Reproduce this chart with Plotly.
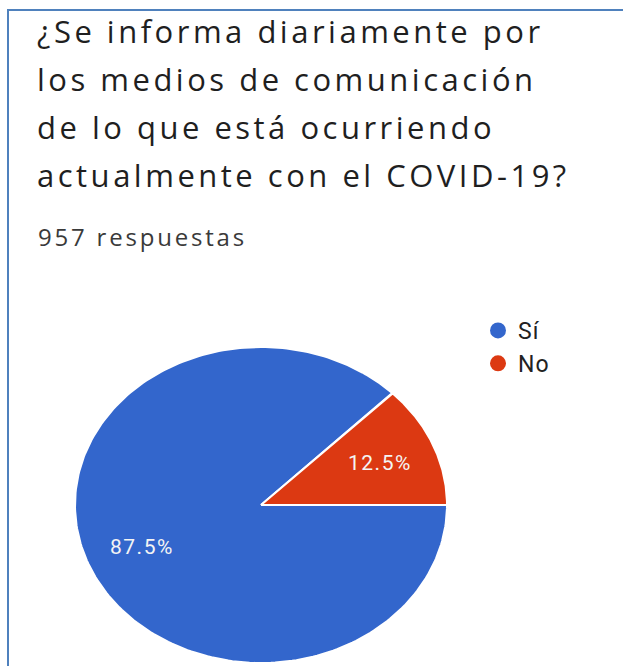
import numpy as np
import plotly.graph_objects as go

# Survey answers
labels = ["Sí", "No"]
counts = [837, 120]
colors = ["#3366cc", "#dc3912"]
total_label = "957 respuestas"
title_lines = [
    "¿Se informa diariamente por",
    "los medios de comunicación",
    "de lo que está ocurriendo",
    "actualmente con el COVID-19?",
]

W, H = 623, 666
# pie geometry in pixels (the chart is drawn slightly wider than tall)
CX, CY, RX, RY = 261, 505, 186, 158


def px(x):
    return x / W


def py(y):
    return 1 - y / H


def spaced(text, sp):
    return f'<span style="letter-spacing:{sp}px">{text}</span>'


fig = go.Figure()

total = sum(counts)
fracs = [c / total for c in counts]
start = 0.0  # degrees, 3 o'clock, moving clockwise
for lab, frac, col in zip(labels, fracs, colors):
    end = start - 360 * frac
    ang = np.radians(np.linspace(start, end, 240))
    xs = np.concatenate([[0], np.cos(ang), [0]])
    ys = np.concatenate([[0], np.sin(ang), [0]])
    fig.add_trace(go.Scatter(
        x=xs, y=ys, mode="lines", fill="toself", fillcolor=col,
        line=dict(color="white", width=2), showlegend=False,
        hoverinfo="text", text=f"{lab}: {frac*100:.1f}%",
    ))
    mid = np.radians((start + end) / 2)
    fig.add_annotation(
        x=0.69 * np.cos(mid), y=0.69 * np.sin(mid), xref="x", yref="y",
        text=spaced(f"{frac*100:.1f}%", 1.5), showarrow=False,
        font=dict(family="Roboto", size=21, color="#f4f4f4"),
    )
    start = end

# legend entries
for lab, col in zip(labels, colors):
    fig.add_trace(go.Scatter(
        x=[None], y=[None], mode="markers", name=spaced(lab, 1),
        marker=dict(color=col, size=21, symbol="circle"),
    ))

fig.update_xaxes(visible=False, range=[-CX / RX, (W - CX) / RX], fixedrange=True)
fig.update_yaxes(visible=False, range=[-(H - CY) / RY, CY / RY], fixedrange=True)

# question text
for i, line in enumerate(title_lines):
    fig.add_annotation(
        x=px(35), y=py(31 + 48 * i), xref="paper", yref="paper",
        xanchor="left", yanchor="middle", text=spaced(line, 3.5),
        showarrow=False,
        font=dict(family="Open Sans", size=31, color="#1f1f1f"),
    )

fig.add_annotation(
    x=px(36), y=py(236), xref="paper", yref="paper",
    xanchor="left", yanchor="middle", text=spaced(total_label, 2.8),
    showarrow=False,
    font=dict(family="Open Sans", size=24, color="#3a3a3a"),
)

# frame lines
border = dict(color="#4f81bd", width=2)
fig.add_shape(type="line", xref="paper", yref="paper",
              x0=px(7), x1=1, y0=py(10), y1=py(10), line=border)
fig.add_shape(type="line", xref="paper", yref="paper",
              x0=px(8), x1=px(8), y0=py(9), y1=0, line=border)

fig.update_layout(
    width=W, height=H,
    margin=dict(l=0, r=0, t=0, b=0),
    paper_bgcolor="white", plot_bgcolor="white",
    legend=dict(
        x=px(478), y=py(309), xanchor="left", yanchor="top",
        font=dict(family="Roboto", size=23, color="#222222"),
        bgcolor="rgba(0,0,0,0)", itemsizing="trace",
    ),
)

fig.write_html("out.html")
